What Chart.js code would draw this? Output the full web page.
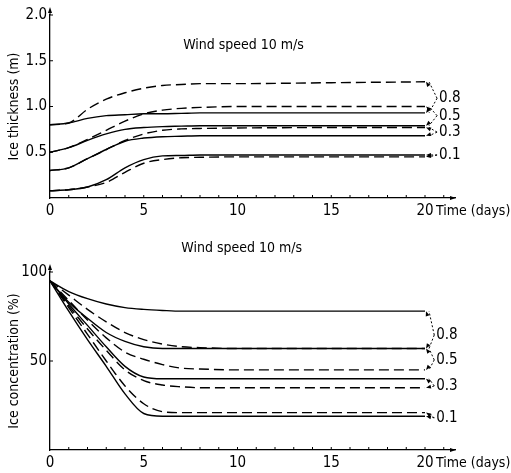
<!DOCTYPE html>
<html>
<head>
<meta charset="utf-8">
<script src="https://cdn.jsdelivr.net/npm/chart.js@4.4.0/dist/chart.umd.min.js"></script>
<style>
  body { margin: 0; background: #fff; }
  canvas { display: block; }
</style>
</head>
<body>
<canvas id="thickChart" width="511" height="230"></canvas>
<canvas id="concChart" width="511" height="243"></canvas>
<script>
var days = [0, 1, 2, 3, 4, 5, 6, 7, 8, 10, 15, 20];

// ice thickness (m)
var thick08Dash  = [0.80, 0.82, 0.97, 1.08, 1.15, 1.20, 1.23, 1.24, 1.25, 1.25, 1.26, 1.27];
var thick08Solid = [0.80, 0.82, 0.87, 0.90, 0.91, 0.92, 0.92, 0.925, 0.93, 0.93, 0.93, 0.93];
var thick05Dash  = [0.50, 0.55, 0.64, 0.74, 0.84, 0.92, 0.96, 0.98, 0.99, 1.00, 1.00, 1.00];
var thick05Solid = [0.50, 0.55, 0.63, 0.70, 0.75, 0.77, 0.78, 0.785, 0.79, 0.79, 0.79, 0.79];
var thick03Dash  = [0.30, 0.33, 0.43, 0.53, 0.63, 0.70, 0.74, 0.755, 0.76, 0.765, 0.77, 0.77];
var thick03Solid = [0.30, 0.33, 0.43, 0.53, 0.62, 0.655, 0.67, 0.675, 0.68, 0.68, 0.68, 0.68];
var thick01Dash  = [0.08, 0.09, 0.12, 0.17, 0.28, 0.38, 0.42, 0.44, 0.445, 0.45, 0.45, 0.45];
var thick01Solid = [0.08, 0.09, 0.12, 0.20, 0.33, 0.42, 0.46, 0.465, 0.47, 0.47, 0.47, 0.47];

// ice concentration (%)
var conc08Solid = [95, 89, 85, 82, 80, 79, 78.4, 78, 78, 78, 78, 78];
var conc08Dash  = [95, 87, 79, 72, 66, 62, 59.5, 58, 57.5, 57, 57, 57];
var conc05Solid = [95, 83, 74, 66, 61, 58, 57, 57, 57, 57, 57, 57];
var conc05Dash  = [95, 84, 73, 63, 55, 51, 48, 46, 45.5, 45, 45, 45];
var conc03Solid = [95, 82, 70, 58, 47, 41, 40, 40, 40, 40, 40, 40];
var conc03Dash  = [95, 81, 68, 56, 45, 39, 36.5, 35.5, 35, 35, 35, 35];
var conc01Dash  = [95, 80, 65, 50, 36, 26, 21.5, 21, 21, 21, 21, 21];
var conc01Solid = [95, 78, 62, 47, 31.5, 20.5, 19, 19, 19, 19, 19, 19];

var curveNames = ['0.8', '0.5', '0.3', '0.1'];
var timeTicks = [0, 5, 10, 15, 20];

var FONT = "'DejaVu Sans Condensed', 'Liberation Sans Narrow', 'DejaVu Sans', sans-serif";
var ink = '#000';

function makeSet(vals, dashed) {
    return {
        data: days.map(function (d, i) { return { x: d, y: vals[i] }; }),
        borderColor: ink,
        borderWidth: 1.4,
        borderDash: dashed ? [10, 5] : [],
        pointRadius: 0,
        cubicInterpolationMode: 'monotone',
        fill: false
    };
}

function arrowHead(ctx, x, y, dx, dy, len, half) {
    var n = Math.sqrt(dx * dx + dy * dy);
    dx /= n; dy /= n;
    ctx.beginPath();
    ctx.moveTo(x, y);
    ctx.lineTo(x - dx * len - dy * half, y - dy * len + dx * half);
    ctx.lineTo(x - dx * len + dy * half, y - dy * len - dx * half);
    ctx.closePath();
    ctx.fill();
}

var paperMarks = {
    id: 'paperMarks',
    afterDraw: function (chart, args, opts) {
        var ctx = chart.ctx, xs = chart.scales.x, ys = chart.scales.y, area = chart.chartArea;
        ctx.save();
        ctx.strokeStyle = ink;
        ctx.fillStyle = ink;
        ctx.lineWidth = 1;

        // small inward ticks
        ctx.beginPath();
        for (var d = 1; d <= 21; d++) {
            var px = xs.getPixelForValue(d);
            ctx.moveTo(px, area.bottom);
            ctx.lineTo(px, area.bottom - 3);
        }
        ys.ticks.forEach(function (t) {
            if (t.value === 0) return;
            var py = ys.getPixelForValue(t.value);
            ctx.moveTo(area.left, py);
            ctx.lineTo(area.left + 3, py);
        });
        ctx.moveTo(area.left, area.top);
        ctx.lineTo(area.left, area.top - 5);
        ctx.stroke();
        arrowHead(ctx, area.left, area.top - 8, 0, -1, 6, 2);
        arrowHead(ctx, area.right + 1, area.bottom, 1, 0, 6, 2);

        ctx.textBaseline = 'middle';
        ctx.textAlign = 'left';
        ctx.font = '14px ' + FONT;
        ctx.fillText('Time (days)', xs.getPixelForValue(20) + 11, area.bottom + 13);
        ctx.fillText(opts.heading, xs.getPixelForValue(opts.headX), ys.getPixelForValue(opts.headY));

        // labels with dotted arrows to the line ends
        ctx.font = '15px ' + FONT;
        opts.notes.forEach(function (note, i) {
            var tx = xs.getPixelForValue(opts.noteX);
            var ty = ys.getPixelForValue(note.y);
            ctx.fillText(curveNames[i], tx, ty);
            note.targets.forEach(function (k) {
                var pts = chart.data.datasets[k].data;
                var end = pts[pts.length - 1];
                var ex = xs.getPixelForValue(end.x) + 1;
                var ey = ys.getPixelForValue(end.y);
                ctx.setLineDash([2, 2]);
                ctx.beginPath();
                ctx.moveTo(tx - 2, ty);
                ctx.lineTo(ex + 3, ey);
                ctx.stroke();
                ctx.setLineDash([]);
                arrowHead(ctx, ex, ey, ex - (tx - 2), ey - ty, 5, 2);
            });
        });
        ctx.restore();
    }
};

function axisOptions(yMin, yMax, yStep, yTitle, yFmt, xHeight) {
    var font = { family: FONT, size: 15 };
    return {
        x: {
            type: 'linear', min: 0, max: 21.6,
            afterFit: function (s) { s.height = xHeight; },
            grid: { display: false, drawTicks: false },
            border: { color: ink, width: 1.3 },
            ticks: {
                stepSize: 1, autoSkip: false, maxRotation: 0, padding: 4, color: ink, font: font,
                callback: function (v) { return timeTicks.indexOf(v) >= 0 ? String(v) : ''; }
            }
        },
        y: {
            min: yMin, max: yMax,
            afterFit: function (s) { s.width = 50; },
            grid: { display: false, drawTicks: false },
            border: { color: ink, width: 1.3 },
            ticks: { stepSize: yStep, padding: 3, color: ink, font: font, callback: yFmt },
            title: { display: true, text: yTitle, color: ink, font: { family: FONT, size: 14 }, padding: { top: 6, bottom: 0 } }
        }
    };
}

new Chart(document.getElementById('thickChart').getContext('2d'), {
    type: 'line',
    data: {
        datasets: [
            makeSet(thick08Dash, true), makeSet(thick08Solid, false),
            makeSet(thick05Dash, true), makeSet(thick05Solid, false),
            makeSet(thick03Dash, true), makeSet(thick03Solid, false),
            makeSet(thick01Dash, true), makeSet(thick01Solid, false)
        ]
    },
    options: {
        responsive: false,
        animation: false,
        layout: { padding: { top: 15, right: 56, left: 0, bottom: 0 } },
        plugins: {
            legend: { display: false },
            tooltip: { enabled: false },
            paperMarks: {
                heading: 'Wind speed 10 m/s', headX: 7.1, headY: 1.67,
                noteX: 20.75,
                notes: [
                    { y: 1.09, targets: [0, 1] },
                    { y: 0.90, targets: [2, 3] },
                    { y: 0.72, targets: [4, 5] },
                    { y: 0.47, targets: [6, 7] }
                ]
            }
        },
        scales: axisOptions(0, 2, 0.5, 'Ice thickness (m)',
            function (v) { return v === 0 ? '' : v.toFixed(1); }, 32)
    },
    plugins: [paperMarks]
});

new Chart(document.getElementById('concChart').getContext('2d'), {
    type: 'line',
    data: {
        datasets: [
            makeSet(conc08Solid, false), makeSet(conc08Dash, true),
            makeSet(conc05Solid, false), makeSet(conc05Dash, true),
            makeSet(conc03Solid, false), makeSet(conc03Dash, true),
            makeSet(conc01Dash, true), makeSet(conc01Solid, false)
        ]
    },
    options: {
        responsive: false,
        animation: false,
        layout: { padding: { top: 42, right: 56, left: 0, bottom: 0 } },
        plugins: {
            legend: { display: false },
            tooltip: { enabled: false },
            paperMarks: {
                heading: 'Wind speed 10 m/s', headX: 7.0, headY: 113.5,
                noteX: 20.6,
                notes: [
                    { y: 64.6, targets: [0, 1] },
                    { y: 50.6, targets: [2, 3] },
                    { y: 36, targets: [4, 5] },
                    { y: 18, targets: [6, 7] }
                ]
            }
        },
        scales: axisOptions(0, 100, 50, 'Ice concentration (%)',
            function (v) { return v === 0 ? '' : String(v); }, 23)
    },
    plugins: [paperMarks]
});
</script>
</body>
</html>
